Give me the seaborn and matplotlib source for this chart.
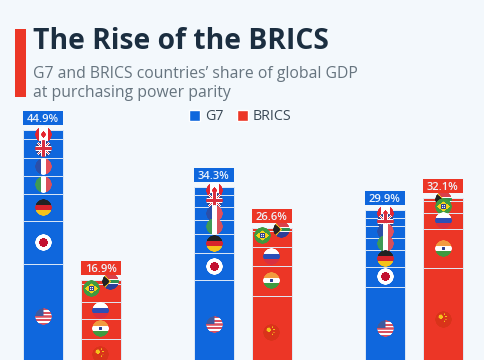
import numpy as np
import pandas as pd
import matplotlib
matplotlib.use("Agg")
import matplotlib.pyplot as plt
from matplotlib.patches import Rectangle, Patch
from matplotlib.offsetbox import OffsetImage, AnnotationBbox
import seaborn as sns

periods = ["Period 1", "Period 2", "Period 3"]
groups = ["G7", "BRICS"]
g7_members = ["US", "JP", "DE", "IT", "FR", "UK", "CA"]
brics_members = ["CN", "IN", "RU", "BR", "ZA"]
us = [19.9, 16.8, 15.6]
jp = [7.9, 5.0, 3.7]
de = [5.1, 3.6, 3.2]
it_ = [3.4, 2.6, 2.2]
fr = [3.4, 2.4, 2.2]
uk = [3.5, 2.4, 1.6]
ca = [1.7, 1.5, 1.4]
cn = [5.8, 13.8, 19.0]
in_ = [3.7, 5.7, 7.4]
ru = [3.2, 3.4, 2.9]
br = [3.4, 3.0, 2.3]
za = [0.8, 0.7, 0.5]
g7_totals = [44.9, 34.3, 29.9]
brics_totals = [16.9, 26.6, 32.1]

BLUE, RED = "#0f67dd", "#ec3626"
BG = "#f3f8fc"
DARK, GREY = "#1b2e40", "#66747f"
FONT = "Open Sans"

g7_vals = [us, jp, de, it_, fr, uk, ca]
brics_vals = [cn, in_, ru, br, za]
g7_cum = np.cumsum(np.array(g7_vals), axis=0)
brics_cum = np.cumsum(np.array(brics_vals), axis=0)

sns.set_theme(style="white")
plt.rcParams["font.family"] = [FONT, "DejaVu Sans"]
fig = plt.figure(figsize=(4.85, 3.6), dpi=100, facecolor=BG)
ax = fig.add_axes([0, 0, 1, 1], facecolor=BG)

for depth in range(7, 0, -1):
    rows = []
    for p, name in enumerate(periods):
        rows.append((name, "G7", g7_cum[depth - 1, p]))
        rows.append((name, "BRICS", brics_cum[depth - 1, p] if depth <= 5 else np.nan))
    df = pd.DataFrame(rows, columns=["period", "group", "share"])
    sns.barplot(data=df, x="period", y="share", hue="group", order=periods,
                hue_order=groups, palette=[BLUE, RED], width=0.678, gap=0.31,
                edgecolor="#dfeaf6", linewidth=0.7, legend=False, ax=ax,
                errorbar=None, saturation=1)

ax.set_xlim(-0.42, 2.416)
ax.set_ylim(1.87, 69.16)
ax.axis("off")


def flag(code, n=48):
    yy, xx = np.mgrid[0:n, 0:n] / (n - 1.0)
    img = np.ones((n, n, 4))

    def paint(mask, color):
        img[mask, :3] = matplotlib.colors.to_rgb(color)

    r = np.hypot(xx - .5, yy - .5)
    if code == "US":
        for i in range(9):
            paint((yy >= i / 9) & (yy < (i + 1) / 9) & (i % 2 == 0), "#d9505f")
        paint((xx < .5) & (yy < .45), "#3f5a9e")
    elif code == "JP":
        paint(r < .27, "#c2102f")
    elif code == "DE":
        paint(yy < .34, "#222222")
        paint((yy >= .34) & (yy < .67), "#d7232b")
        paint(yy >= .67, "#f5c21b")
    elif code == "IT":
        paint(xx < .34, "#3f9a55")
        paint(xx >= .67, "#d9505a")
    elif code == "FR":
        paint(xx < .34, "#2b4fa8")
        paint(xx >= .67, "#e4505a")
    elif code == "UK":
        paint(np.ones((n, n), bool), "#31478f")
        d = (np.abs(xx - yy) < .1) | (np.abs(xx + yy - 1) < .1)
        paint(d, "#ffffff")
        d = (np.abs(xx - yy) < .04) | (np.abs(xx + yy - 1) < .04)
        paint(d, "#d9404f")
        paint((np.abs(xx - .5) < .16) | (np.abs(yy - .5) < .16), "#ffffff")
        paint((np.abs(xx - .5) < .09) | (np.abs(yy - .5) < .09), "#d9303f")
    elif code == "CA":
        paint((xx < .25) | (xx > .75), "#e5252f")
        leaf = (np.abs(xx - .5) + np.abs(yy - .5) * .8 < .17) | ((np.abs(xx - .5) < .03) & (yy > .5) & (yy < .72))
        paint(leaf, "#e5252f")
    elif code == "CN":
        paint(np.ones((n, n), bool), "#d9331a")
        paint(np.hypot(xx - .33, yy - .33) < .13, "#f6c21a")
        for cx, cy in [(.55, .18), (.65, .32), (.65, .48), (.55, .6)]:
            paint(np.hypot(xx - cx, yy - cy) < .04, "#f6c21a")
    elif code == "IN":
        paint(yy < .34, "#f29b3f")
        paint(yy >= .67, "#3f9a3f")
        paint(r < .1, "#2b3f8f")
    elif code == "RU":
        paint((yy >= .34) & (yy < .67), "#2b4fb8")
        paint(yy >= .67, "#d9303f")
    elif code == "BR":
        paint(np.ones((n, n), bool), "#3f9a3f")
        paint(np.abs(xx - .5) + np.abs(yy - .5) * 1.4 < .42, "#f5d21b")
        paint(r < .17, "#2b3f8f")
        paint((r < .1) & (r > .06), "#ffffff")
    elif code == "ZA":
        paint(yy < .5, "#d9404a")
        paint(yy >= .5, "#2b3f98")
        paint(np.abs(yy - .5) < .17 + 0 * xx, "#ffffff")
        paint(np.abs(yy - .5) < .1, "#2f8f4f")
        wedge = np.abs(yy - .5) < (.55 - xx) * 1.0
        paint(wedge, "#f5c21b")
        wedge = np.abs(yy - .5) < (.45 - xx) * 1.0
        paint(wedge, "#222222")
    img[..., 3] = np.clip((0.5 - r) * n, 0, 1)
    return img


def put_flag(code, x, y, dx=0, dy=0):
    im = OffsetImage(flag(code), zoom=0.25, interpolation="antialiased")
    ax.add_artist(AnnotationBbox(im, (x + dx / 171, y + dy), frameon=False, pad=0,
                                 box_alignment=(.5, .5), zorder=5))


offsets = {"ZA": 10, "BR": -9}
for g, (members, cum, totals, color, sign) in enumerate([
        (g7_members, g7_cum, g7_totals, BLUE, -1),
        (brics_members, brics_cum, brics_totals, RED, 1)]):
    for p in range(len(periods)):
        x = p + sign * 0.678 / 4
        for k in range(len(members) - 1, -1, -1):
            low = cum[k - 1, p] if k else 0
            mid = (low + cum[k, p]) / 2
            dx = offsets.get(members[k], 0) if p < 2 else 0
            dy = 0.8 if members[k] == "BR" and p < 2 else 0
            put_flag(members[k], x, mid, dx, dy)
        top = totals[p]
        w = 0.234
        ax.add_patch(Rectangle((x - w / 2, top + 0.93), w, 2.6, facecolor=color,
                               edgecolor="none", zorder=6))
        ax.text(x, top + 0.93 + 1.3, f"{top:.1f}%", ha="center", va="center_baseline",
                color="#eef4fb", fontsize=8, fontweight="semibold", zorder=7)

fig.add_artist(Rectangle((15 / 485, 1 - 97 / 360), 11 / 485, 68 / 360,
                         transform=fig.transFigure, facecolor="#ec3626", edgecolor="none"))
fig.text(33 / 485, 1 - 49 / 360, "The Rise of the BRICS", color=DARK, fontsize=20.3,
         fontweight="bold", va="baseline")
fig.text(33 / 485, 1 - 78 / 360, "G7 and BRICS countries\u2019 share of global GDP",
         color=GREY, fontsize=11.35, va="baseline")
fig.text(33 / 485, 1 - 97 / 360, "at purchasing power parity",
         color=GREY, fontsize=11.35, va="baseline")

handles = [Patch(facecolor=BLUE, label="G7"), Patch(facecolor=RED, label="BRICS")]
fig.legend(handles=handles, ncol=2, loc="center left", bbox_to_anchor=(189.5 / 485, 1 - 117 / 360),
           frameon=False, fontsize=10.3, handlelength=0.75, handleheight=0.75, handletextpad=0.35,
           columnspacing=0.95, labelcolor="#3a4956", borderpad=0, borderaxespad=0)

fig.savefig("out.png", dpi=100, facecolor=BG)
